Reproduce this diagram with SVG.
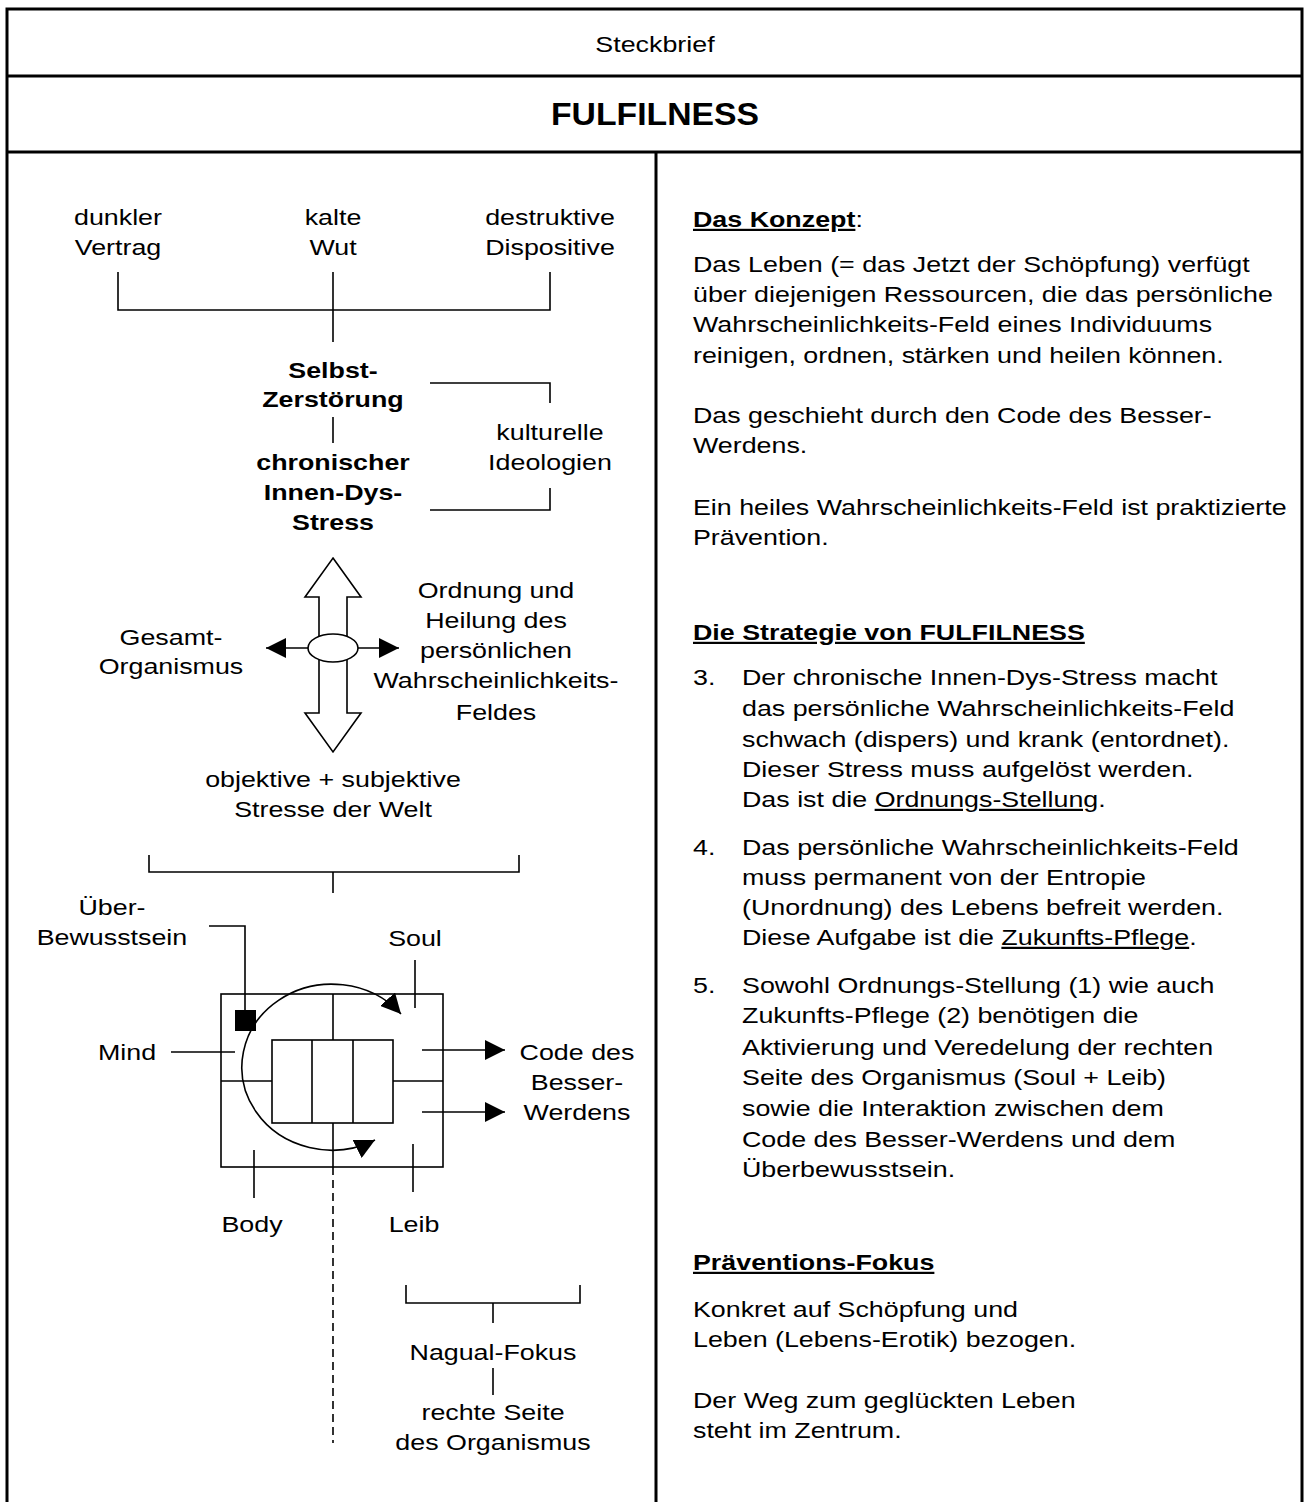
<svg xmlns="http://www.w3.org/2000/svg" width="1309" height="1502" viewBox="0 0 1309 1502">
<style>
  text { font-family: "Liberation Sans", Arial, sans-serif; font-size: 22px; fill: #000; }
  .c { text-anchor: middle; }
  .b { font-weight: bold; }
  .u { text-decoration: underline; }
  .frame { stroke: #000; stroke-width: 3; fill: none; }
  .ln { stroke: #000; stroke-width: 1.6; fill: none; }
  .dash { stroke: #000; stroke-width: 1.6; fill: none; stroke-dasharray: 8 5; }
</style>
<defs>
  <marker id="ah" markerUnits="userSpaceOnUse" markerWidth="20" markerHeight="20" refX="20" refY="10" orient="auto-start-reverse">
    <path d="M0,0 L20,10 L0,20 Z" fill="#000"/>
  </marker>
</defs>
<rect width="1309" height="1502" fill="#fff"/>

<g id="frame">
  <path class="frame" d="M7,1502 V9 H1302 V1502"/>
  <line class="frame" x1="7" y1="76" x2="1302" y2="76"/>
  <line class="frame" x1="7" y1="152" x2="1302" y2="152"/>
  <line class="frame" x1="656" y1="152" x2="656" y2="1502"/>
</g>

<g id="header" transform="scale(1.22 1)">
  <text class="c" x="536.89" y="52">Steckbrief</text>
</g>
<g id="title">
  <text class="c b" x="655" y="125" style="font-size:31px" textLength="208" lengthAdjust="spacingAndGlyphs">FULFILNESS</text>
</g>

<g id="connectors">
  <!-- top bracket -->
  <path class="ln" d="M118,272 V310 H550 V272"/>
  <line class="ln" x1="333" y1="272" x2="333" y2="342"/>
  <line class="ln" x1="333" y1="417" x2="333" y2="443"/>
  <!-- kulturelle bracket -->
  <path class="ln" d="M430,383 H550 V403"/>
  <path class="ln" d="M550,488 V510 H430"/>
  <!-- horizontal arrows from ellipse -->
  <line class="ln" x1="308" y1="648" x2="266" y2="648" marker-end="url(#ah)"/>
  <line class="ln" x1="358" y1="648" x2="399" y2="648" marker-end="url(#ah)"/>
  <!-- lower bracket -->
  <path class="ln" d="M149,855 V872 H519 V855"/>
  <line class="ln" x1="333" y1="872" x2="333" y2="893"/>
  <!-- Ueber-Bewusstsein leader -->
  <path class="ln" d="M209,926 H245 V1012"/>
  <!-- Mind, Soul, Body, Leib leaders -->
  <line class="ln" x1="171" y1="1052" x2="235" y2="1052"/>
  <line class="ln" x1="415" y1="960" x2="415" y2="1008"/>
  <line class="ln" x1="254" y1="1150" x2="254" y2="1198"/>
  <line class="ln" x1="413" y1="1144" x2="413" y2="1192"/>
  <!-- arrows to Code des Besser-Werdens -->
  <line class="ln" x1="422" y1="1050" x2="505" y2="1050" marker-end="url(#ah)"/>
  <line class="ln" x1="422" y1="1112" x2="505" y2="1112" marker-end="url(#ah)"/>
  <!-- dashed axis -->
  <line class="dash" x1="333" y1="1167" x2="333" y2="1443"/>
  <!-- Nagual bracket -->
  <path class="ln" d="M406,1285 V1303 H580 V1285"/>
  <line class="ln" x1="493" y1="1303" x2="493" y2="1323"/>
  <line class="ln" x1="493" y1="1368" x2="493" y2="1395"/>
</g>

<g id="node-dunkler" transform="scale(1.22 1)">
  <text class="c" x="96.72" y="225">dunkler</text>
  <text class="c" x="96.72" y="255">Vertrag</text>
</g>
<g id="node-kalte" transform="scale(1.22 1)">
  <text class="c" x="272.95" y="225">kalte</text>
  <text class="c" x="272.95" y="255">Wut</text>
</g>
<g id="node-destruktive" transform="scale(1.22 1)">
  <text class="c" x="450.82" y="225">destruktive</text>
  <text class="c" x="450.82" y="255">Dispositive</text>
</g>
<g id="node-selbstzerstoerung" transform="scale(1.22 1)">
  <text class="c b" x="272.95" y="378">Selbst-</text>
  <text class="c b" x="272.95" y="407">Zerstörung</text>
</g>
<g id="node-chronisch" transform="scale(1.22 1)">
  <text class="c b" x="272.95" y="470">chronischer</text>
  <text class="c b" x="272.95" y="500">Innen-Dys-</text>
  <text class="c b" x="272.95" y="530">Stress</text>
</g>
<g id="node-kulturelle" transform="scale(1.22 1)">
  <text class="c" x="450.82" y="440">kulturelle</text>
  <text class="c" x="450.82" y="470">Ideologien</text>
</g>

<g id="node-cross">
  <path d="M333,558 L361,597 L347,597 L347,713 L361,713 L333,752 L305,713 L319,713 L319,597 L305,597 Z" fill="#fff" stroke="#000" stroke-width="1.6"/>
  <ellipse cx="333" cy="648" rx="25" ry="14" fill="#fff" stroke="#000" stroke-width="1.6"/>
</g>
<g id="node-gesamt" transform="scale(1.22 1)">
  <text class="c" x="140.16" y="645">Gesamt-</text>
  <text class="c" x="140.16" y="674">Organismus</text>
</g>
<g id="node-ordnung" transform="scale(1.22 1)">
  <text class="c" x="406.56" y="598">Ordnung und</text>
  <text class="c" x="406.56" y="628">Heilung des</text>
  <text class="c" x="406.56" y="658">persönlichen</text>
  <text class="c" x="406.56" y="688">Wahrscheinlichkeits-</text>
  <text class="c" x="406.56" y="720">Feldes</text>
</g>
<g id="node-objektive" transform="scale(1.22 1)">
  <text class="c" x="272.95" y="787">objektive + subjektive</text>
  <text class="c" x="272.95" y="817">Stresse der Welt</text>
</g>

<g id="node-organismus">
  <rect x="221" y="994" width="222" height="173" class="ln"/>
  <rect x="272" y="1040" width="121" height="83" class="ln"/>
  <line class="ln" x1="312" y1="1040" x2="312" y2="1123"/>
  <line class="ln" x1="353" y1="1040" x2="353" y2="1123"/>
  <line class="ln" x1="333" y1="994" x2="333" y2="1040"/>
  <line class="ln" x1="333" y1="1123" x2="333" y2="1167"/>
  <line class="ln" x1="221" y1="1081" x2="272" y2="1081"/>
  <line class="ln" x1="393" y1="1081" x2="443" y2="1081"/>
  <rect x="235" y="1010" width="21" height="21" fill="#000"/>
  <path class="ln" d="M375,1140 A90,83 0 1 1 401,1014" marker-start="url(#ah)" marker-end="url(#ah)"/>
</g>
<g id="node-ueber" transform="scale(1.22 1)">
  <text class="c" x="91.80" y="915">Über-</text>
  <text class="c" x="91.80" y="945">Bewusstsein</text>
</g>
<g id="node-mind" transform="scale(1.22 1)">
  <text class="c" x="104.10" y="1060">Mind</text>
</g>
<g id="node-soul" transform="scale(1.22 1)">
  <text class="c" x="340.16" y="946">Soul</text>
</g>
<g id="node-body" transform="scale(1.22 1)">
  <text class="c" x="206.56" y="1232">Body</text>
</g>
<g id="node-leib" transform="scale(1.22 1)">
  <text class="c" x="339.34" y="1232">Leib</text>
</g>
<g id="node-code" transform="scale(1.22 1)">
  <text class="c" x="472.95" y="1060">Code des</text>
  <text class="c" x="472.95" y="1090">Besser-</text>
  <text class="c" x="472.95" y="1120">Werdens</text>
</g>
<g id="node-nagual" transform="scale(1.22 1)">
  <text class="c" x="404.10" y="1360">Nagual-Fokus</text>
  <text class="c" x="404.10" y="1420">rechte Seite</text>
  <text class="c" x="404.10" y="1450">des Organismus</text>
</g>

<g id="text-konzept" transform="scale(1.22 1)">
  <text x="568.03" y="227"><tspan class="b u">Das Konzept</tspan>:</text>
  <text x="568.03" y="272">Das Leben (= das Jetzt der Schöpfung) verfügt</text>
  <text x="568.03" y="302">über diejenigen Ressourcen, die das persönliche</text>
  <text x="568.03" y="332">Wahrscheinlichkeits-Feld eines Individuums</text>
  <text x="568.03" y="363">reinigen, ordnen, stärken und heilen können.</text>
  <text x="568.03" y="423">Das geschieht durch den Code des Besser-</text>
  <text x="568.03" y="453">Werdens.</text>
  <text x="568.03" y="515">Ein heiles Wahrscheinlichkeits-Feld ist praktizierte</text>
  <text x="568.03" y="545">Prävention.</text>
</g>
<g id="text-strategie" transform="scale(1.22 1)">
  <text class="b u" x="568.03" y="640">Die Strategie von FULFILNESS</text>
  <text x="568.03" y="685">3.</text>
  <text x="608.20" y="685">Der chronische Innen-Dys-Stress macht</text>
  <text x="608.20" y="716">das persönliche Wahrscheinlichkeits-Feld</text>
  <text x="608.20" y="747">schwach (dispers) und krank (entordnet).</text>
  <text x="608.20" y="777">Dieser Stress muss aufgelöst werden.</text>
  <text x="608.20" y="807">Das ist die <tspan class="u">Ordnungs-Stellung</tspan>.</text>
  <text x="568.03" y="855">4.</text>
  <text x="608.20" y="855">Das persönliche Wahrscheinlichkeits-Feld</text>
  <text x="608.20" y="885">muss permanent von der Entropie</text>
  <text x="608.20" y="915">(Unordnung) des Lebens befreit werden.</text>
  <text x="608.20" y="945">Diese Aufgabe ist die <tspan class="u">Zukunfts-Pflege</tspan>.</text>
  <text x="568.03" y="993">5.</text>
  <text x="608.20" y="993">Sowohl Ordnungs-Stellung (1) wie auch</text>
  <text x="608.20" y="1023">Zukunfts-Pflege (2) benötigen die</text>
  <text x="608.20" y="1055">Aktivierung und Veredelung der rechten</text>
  <text x="608.20" y="1085">Seite des Organismus (Soul + Leib)</text>
  <text x="608.20" y="1116">sowie die Interaktion zwischen dem</text>
  <text x="608.20" y="1147">Code des Besser-Werdens und dem</text>
  <text x="608.20" y="1177">Überbewusstsein.</text>
</g>
<g id="text-praevention" transform="scale(1.22 1)">
  <text class="b u" x="568.03" y="1270">Präventions-Fokus</text>
  <text x="568.03" y="1317">Konkret auf Schöpfung und</text>
  <text x="568.03" y="1347">Leben (Lebens-Erotik) bezogen.</text>
  <text x="568.03" y="1408">Der Weg zum geglückten Leben</text>
  <text x="568.03" y="1438">steht im Zentrum.</text>
</g>
</svg>
